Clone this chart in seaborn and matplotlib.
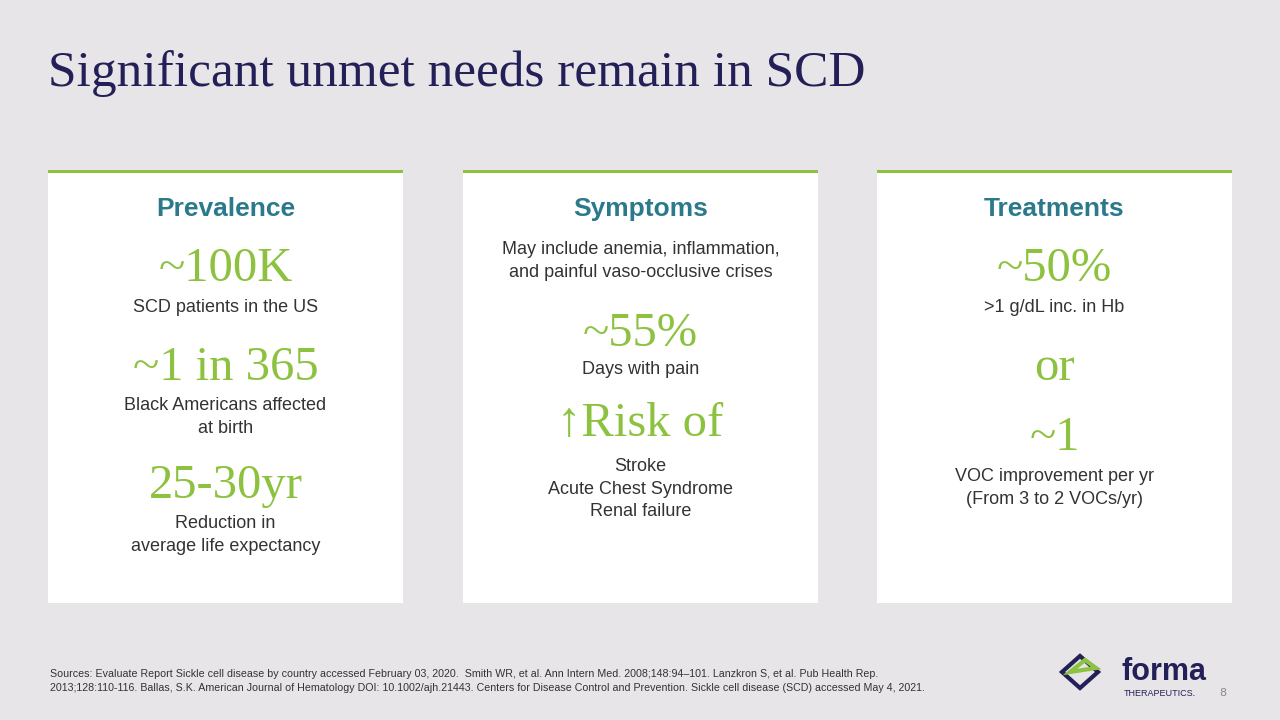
import matplotlib.pyplot as plt
import matplotlib.patches as mpatches
import seaborn as sns

title = "Significant unmet needs remain in SCD"
headings = ["Prevalence", "Symptoms", "Treatments"]
card_lefts = [48, 463, 877]

# (text, kind, y) per card; kind: big = green serif figure, body = grey sans text
prevalence_items = [
    ("~100K", "big", 269),
    ("SCD patients in the US", "body", 308),
    ("~1 in 365", "big", 368),
    ("Black Americans affected\nat birth", "body", 417),
    ("25-30yr", "big", 486),
    ("Reduction in\naverage life expectancy", "body", 535),
]
symptom_items = [
    ("May include anemia, inflammation,\nand painful vaso-occlusive crises", "body", 261),
    ("~55%", "big", 334),
    ("Days with pain", "body", 370),
    ("\u2191Risk of", "big", 424),
    ("Stroke\nAcute Chest Syndrome\nRenal failure", "body", 489),
]
treatment_items = [
    ("~50%", "big", 269),
    (">1 g/dL inc. in Hb", "body", 308),
    ("or", "big", 368),
    ("~1", "big", 438),
    ("VOC improvement per yr\n(From 3 to 2 VOCs/yr)", "body", 488),
]
sources = ("Sources: Evaluate Report Sickle cell disease by country accessed February 03, 2020.  Smith WR, et al. Ann Intern Med. 2008;148:94\u2013101. Lanzkron S, et al. Pub Health Rep.\n"
           "2013;128:110-116. Ballas, S.K. American Journal of Hematology DOI: 10.1002/ajh.21443. Centers for Disease Control and Prevention. Sickle cell disease (SCD) accessed May 4, 2021.")

BG = "#E7E5E7"
NAVY = "#232058"
TEAL = "#2B7A8C"
GREEN = "#8CC23F"
GREY = "#333333"

sns.set_theme(style="white")
fig = plt.figure(figsize=(12.8, 7.2), dpi=100, facecolor=BG)
ax = fig.add_axes([0, 0, 1, 1])
ax.set_xlim(0, 1280)
ax.set_ylim(720, 0)
ax.axis("off")
ax.set_facecolor(BG)

ax.text(48, 74, title, fontsize=37, color=NAVY, family="Liberation Serif", va="center")

card_w, top, bottom = 355, 170, 603
for left, head, items in zip(card_lefts, headings, [prevalence_items, symptom_items, treatment_items]):
    ax.add_patch(mpatches.Rectangle((left, top), card_w, bottom - top, facecolor="white", edgecolor="none"))
    ax.add_patch(mpatches.Rectangle((left, top), card_w, 3, facecolor=GREEN, edgecolor="none"))
    cx = left + card_w / 2
    ax.text(cx, 209, head, fontsize=19, color=TEAL, fontweight="bold", ha="center", va="center",
            family="Liberation Sans")
    for txt, kind, y in items:
        if kind == "big":
            ax.text(cx, y, txt, fontsize=35, color=GREEN, family="Liberation Serif", ha="center", va="center")
        else:
            ax.text(cx, y, txt, fontsize=13, color=GREY, family="Liberation Sans", ha="center", va="center",
                    linespacing=1.4)

ax.text(50, 681, sources, fontsize=7.7, color=GREY, family="Liberation Sans", va="center", linespacing=1.5)
ax.text(1226, 693, "8", fontsize=8, color="#888888", va="center", ha="right")

# logo
ax.add_patch(mpatches.Polygon([(1062, 672), (1080, 656), (1098, 672), (1080, 688)], closed=True,
                              facecolor="none", edgecolor=NAVY, lw=3))
ax.add_patch(mpatches.Polygon([(1070, 672), (1085, 660), (1096, 668)], closed=True,
                              facecolor="none", edgecolor=GREEN, lw=3))
ax.text(1122, 672, "forma", fontsize=22, color=NAVY, fontweight="bold", family="Liberation Sans", va="center")
ax.text(1124, 693, "THERAPEUTICS.", fontsize=6.5, color=NAVY, family="Liberation Sans", va="center")

fig.savefig("out.png", dpi=100, facecolor=BG)
